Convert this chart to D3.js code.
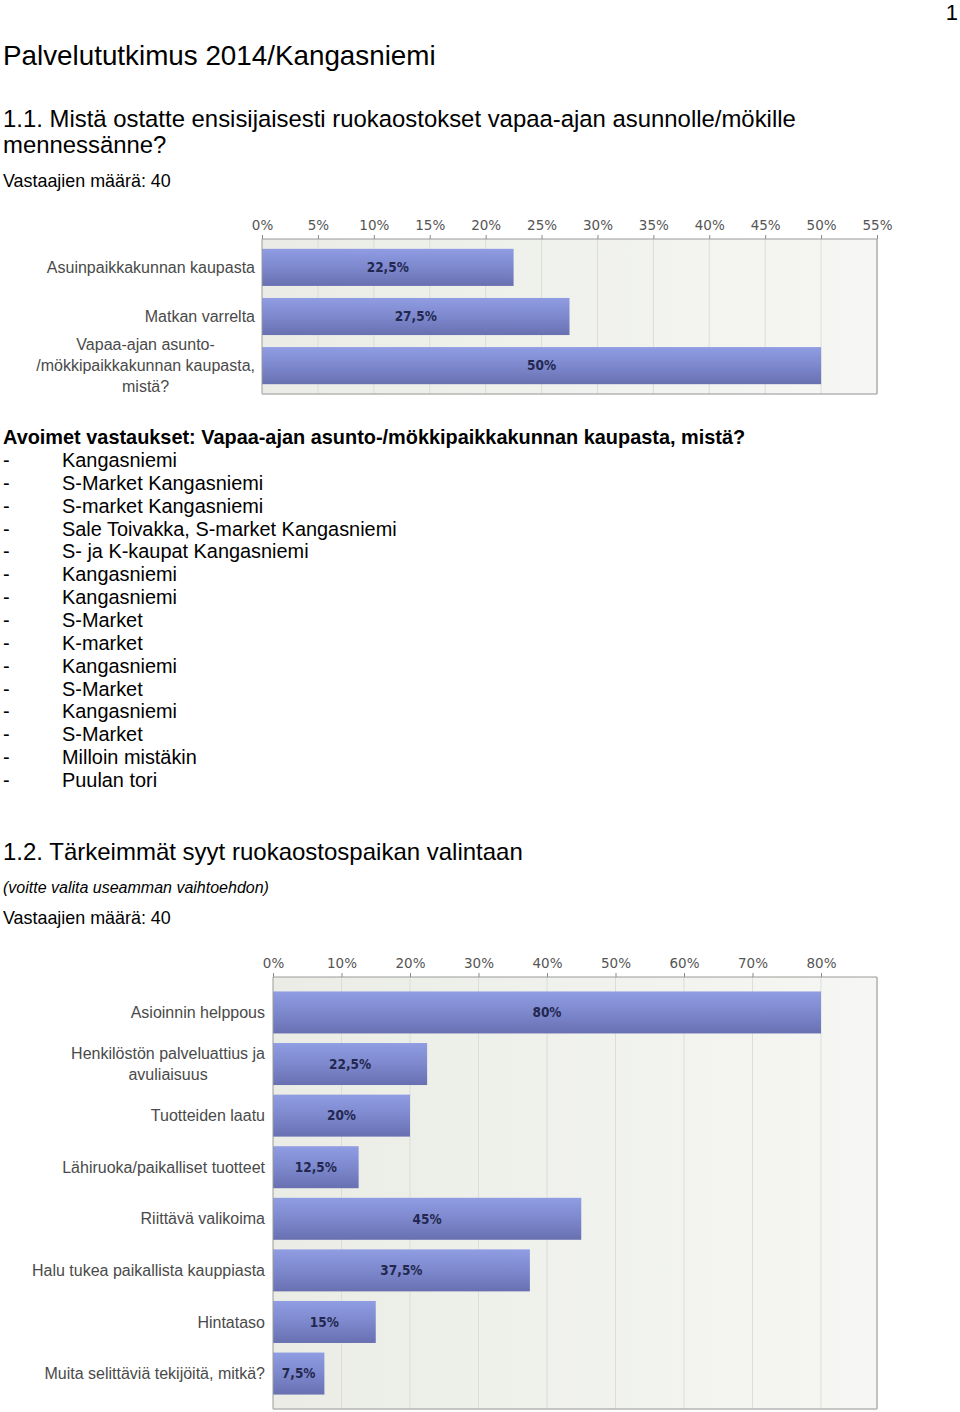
<!DOCTYPE html>
<html><head><meta charset="utf-8">
<script src="https://cdn.jsdelivr.net/npm/d3@7"></script>
<style>body{margin:0;background:#fff} svg{display:block}</style>
</head><body><svg id="page" width="960" height="1412"></svg>
<script>
// ---------- data ----------
const q1Categories = ["Asuinpaikkakunnan kaupasta", "Matkan varrelta", "Vapaa-ajan asunto-/mökkipaikkakunnan kaupasta, mistä?"];
const q1Values = [22.5, 27.5, 50];
const q1Ticks = [0, 5, 10, 15, 20, 25, 30, 35, 40, 45, 50, 55];

const q2Categories = ["Asioinnin helppous", "Henkilöstön palveluattius ja avuliaisuus", "Tuotteiden laatu", "Lähiruoka/paikalliset tuotteet", "Riittävä valikoima", "Halu tukea paikallista kauppiasta", "Hintataso", "Muita selittäviä tekijöitä, mitkä?"];
const q2Values = [80, 22.5, 20, 12.5, 45, 37.5, 15, 7.5];
const q2Ticks = [0, 10, 20, 30, 40, 50, 60, 70, 80];

const openAnswers = ["Kangasniemi", "S-Market Kangasniemi", "S-market Kangasniemi", "Sale Toivakka, S-market Kangasniemi", "S- ja K-kaupat Kangasniemi", "Kangasniemi", "Kangasniemi", "S-Market", "K-market", "Kangasniemi", "S-Market", "Kangasniemi", "S-Market", "Milloin mistäkin", "Puulan tori"];

const pageTitle = "Palvelututkimus 2014/Kangasniemi";
const q1Title = ["1.1. Mistä ostatte ensisijaisesti ruokaostokset vapaa-ajan asunnolle/mökille", "mennessänne?"];
const respondents = "Vastaajien määrä: 40";
const openTitle = "Avoimet vastaukset: Vapaa-ajan asunto-/mökkipaikkakunnan kaupasta, mistä?";
const q2Title = "1.2. Tärkeimmät syyt ruokaostospaikan valintaan";
const q2Note = "(voitte valita useamman vaihtoehdon)";

// ---------- drawing ----------
const svg = d3.select("#page");
const SANS = "'Liberation Sans', Arial, Helvetica, sans-serif";
const defs = svg.append("defs");
const bg = defs.append("linearGradient").attr("id", "plotBg").attr("x1", 0).attr("x2", 1).attr("y1", 0).attr("y2", 0);
bg.append("stop").attr("offset", "0%").attr("stop-color", "#eaece5");
bg.append("stop").attr("offset", "100%").attr("stop-color", "#f6f7f4");
const bar = defs.append("linearGradient").attr("id", "barGrad").attr("x1", 0).attr("x2", 0).attr("y1", 0).attr("y2", 1);
bar.append("stop").attr("offset", "0%").attr("stop-color", "#909de2");
bar.append("stop").attr("offset", "50%").attr("stop-color", "#7d88cd");
bar.append("stop").attr("offset", "100%").attr("stop-color", "#6870b1");

function text(x, y, s, size, opts = {}) {
  return svg.append("text").attr("x", x).attr("y", y).text(s)
    .attr("font-family", SANS).attr("font-size", size)
    .attr("font-weight", opts.bold ? "bold" : "normal")
    .attr("font-style", opts.italic ? "italic" : "normal")
    .attr("text-anchor", opts.anchor || "start")
    .attr("fill", opts.fill || "#000");
}

// page header & text blocks
text(958, 20, "1", 22, {anchor: "end"});
text(3, 65, pageTitle, 27.8);
text(3, 127, q1Title[0], 23.9);
text(3, 153, q1Title[1], 23.9);
text(3, 187, respondents, 17.9);
text(3, 444, openTitle, 19.9, {bold: true});
openAnswers.forEach((a, i) => {
  const y = 467 + i * 22.86;
  text(3, y, "-", 19.9);
  text(62, y, a, 19.9);
});
text(3, 860, q2Title, 24);
text(3, 893, q2Note, 16, {italic: true});
text(3, 924, respondents, 17.9);

function splitTokens(s) {
  const out = []; let cur = "";
  for (const ch of s) { cur += ch; if (ch === " " || ch === "-") { out.push(cur); cur = ""; } }
  if (cur) out.push(cur);
  return out;
}

function drawChart(cfg) {
  const g = svg.append("g");
  const x = d3.scaleLinear().domain([0, d3.max(cfg.ticks)]).range(cfg.xRange);
  const y = d3.scaleBand().domain(cfg.categories).range([cfg.top, cfg.bottom])
    .paddingInner(cfg.padIn).paddingOuter(cfg.padOut);
  const x0 = x(0), x1 = cfg.plotRight;

  g.append("rect").attr("x", x0).attr("y", cfg.top).attr("width", x1 - x0)
    .attr("height", cfg.bottom - cfg.top).attr("fill", "url(#plotBg)");
  g.selectAll("line.grid").data(cfg.ticks.filter(t => t > 0)).join("line")
    .attr("class", "grid").attr("x1", d => x(d)).attr("x2", d => x(d))
    .attr("y1", cfg.top).attr("y2", cfg.bottom).attr("stroke", "#dcddd8").attr("stroke-width", 1);

  // bars
  const data = cfg.categories.map((c, i) => ({c, v: cfg.values[i]}));
  g.selectAll("rect.bar").data(data).join("rect").attr("class", "bar")
    .attr("x", x0).attr("y", d => y(d.c)).attr("width", d => x(d.v) - x0)
    .attr("height", y.bandwidth()).attr("fill", "url(#barGrad)");
  g.selectAll("text.val").data(data).join("text").attr("class", "val")
    .attr("x", d => (x0 + x(d.v)) / 2).attr("y", d => y(d.c) + y.bandwidth() / 2)
    .attr("dy", "0.36em").attr("text-anchor", "middle")
    .attr("font-family", "'DejaVu Sans Condensed', 'DejaVu Sans', sans-serif")
    .attr("font-weight", "bold").attr("font-size", 13.5).attr("fill", "#232850")
    .text(d => String(d.v).replace(".", ",") + "%");

  // frame
  g.append("line").attr("x1", x0).attr("x2", x0).attr("y1", cfg.top).attr("y2", cfg.bottom).attr("stroke", "#9a9a9a");
  g.append("line").attr("x1", x1).attr("x2", x1).attr("y1", cfg.top).attr("y2", cfg.bottom).attr("stroke", "#b0b0b0").attr("stroke-width", 1.5);
  g.append("line").attr("x1", x0).attr("x2", x1).attr("y1", cfg.bottom).attr("y2", cfg.bottom).attr("stroke", "#b4b4b4").attr("stroke-width", 1.5);
  g.append("line").attr("x1", x0).attr("x2", x1).attr("y1", cfg.top).attr("y2", cfg.top).attr("stroke", "#9a9a9a");

  // axis
  const ax = g.append("g").attr("transform", `translate(0,${cfg.top})`)
    .call(d3.axisTop(x).tickValues(cfg.ticks).tickSize(4).tickPadding(5).tickFormat(d => d + "%"));
  ax.select(".domain").remove();
  ax.selectAll(".tick line").attr("stroke", "#8a8a8a");
  ax.selectAll(".tick text").attr("font-family", "'DejaVu Sans', Verdana, sans-serif")
    .attr("font-size", 13.5).attr("fill", "#555");

  // category labels (wrapped, centered block, right aligned to axis)
  cfg.categories.forEach(c => {
    const cy = y(c) + y.bandwidth() / 2;
    const probe = g.append("text").attr("font-family", SANS).attr("font-size", 16);
    const measure = s => { probe.text(s); return probe.node().getComputedTextLength(); };
    const lines = []; let line = "";
    for (const t of splitTokens(c)) {
      const test = line + t;
      if (line && measure(test.trimEnd()) > cfg.wrapWidth) { lines.push(line.trimEnd()); line = t; }
      else line = test;
    }
    lines.push(line.trimEnd());
    const widths = lines.map(measure);
    probe.remove();
    const maxW = d3.max(widths);
    const lh = 21;
    const t = g.append("text").attr("font-family", SANS).attr("font-size", 16).attr("fill", "#4a4a4a");
    if (lines.length === 1) {
      t.attr("x", cfg.labelRight).attr("y", cy).attr("dy", "0.35em").attr("text-anchor", "end").text(lines[0]);
    } else {
      const cx = cfg.labelRight - maxW / 2;
      t.attr("text-anchor", "middle");
      lines.forEach((l, i) => {
        t.append("tspan").attr("x", cx).attr("y", cy + (i - (lines.length - 1) / 2) * lh).attr("dy", "0.35em").text(l);
      });
    }
  });
}

drawChart({categories: q1Categories, values: q1Values, ticks: q1Ticks,
  xRange: [262, 877], plotRight: 877, top: 239, bottom: 394,
  padIn: 0.245, padOut: 0.2, labelRight: 255, wrapWidth: 225});

drawChart({categories: q2Categories, values: q2Values, ticks: q2Ticks,
  xRange: [273, 821], plotRight: 877, top: 977, bottom: 1409,
  padIn: 0.186, padOut: 0.28, labelRight: 265, wrapWidth: 235});
</script>
</body></html>
